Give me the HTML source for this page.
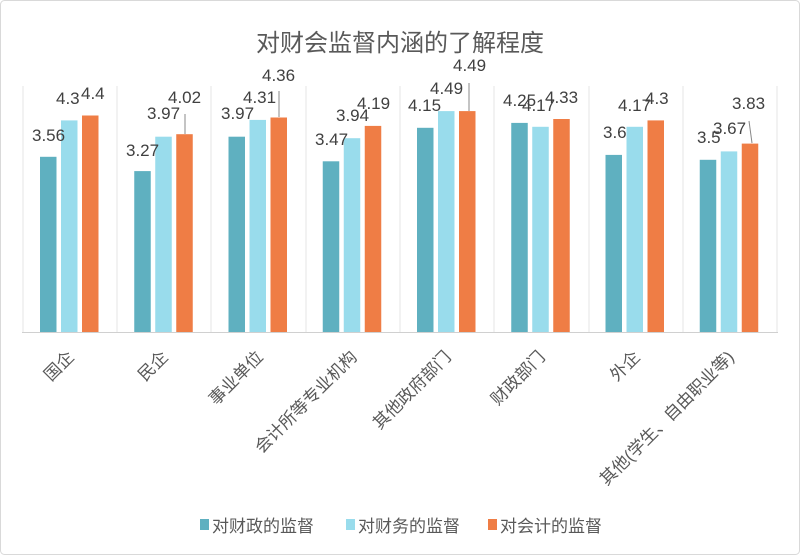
<!DOCTYPE html>
<html><head><meta charset="utf-8"><style>
body{margin:0;background:#fff}
svg{display:block;font-family:"Liberation Sans","Noto Sans CJK SC",sans-serif}
</style></head><body>
<svg width="800" height="555" viewBox="0 0 800 555">
<rect x="0.5" y="0.5" width="799" height="554" rx="4" fill="#fff" stroke="#d9d9d9"/>
<text x="400" y="51" text-anchor="middle" font-size="24" fill="#595959">对财会监督内涵的了解程度</text>
<g stroke="#e6e6e6" stroke-width="1">
<line x1="23" y1="86" x2="23" y2="332"/><line x1="117" y1="86" x2="117" y2="332"/><line x1="211" y1="86" x2="211" y2="332"/><line x1="306" y1="86" x2="306" y2="332"/><line x1="400" y1="86" x2="400" y2="332"/><line x1="494" y1="86" x2="494" y2="332"/><line x1="589" y1="86" x2="589" y2="332"/><line x1="683" y1="86" x2="683" y2="332"/><line x1="777" y1="86" x2="777" y2="332"/>
</g>
<g fill="#5fb0c0">
<rect x="40" y="156.8" width="16.5" height="175.2"/>
<rect x="134.25" y="171.1" width="16.5" height="160.9"/>
<rect x="228.5" y="136.7" width="16.5" height="195.3"/>
<rect x="322.75" y="161.3" width="16.5" height="170.7"/>
<rect x="417" y="127.8" width="16.5" height="204.2"/>
<rect x="511.25" y="122.9" width="16.5" height="209.1"/>
<rect x="605.5" y="154.9" width="16.5" height="177.1"/>
<rect x="699.75" y="159.8" width="16.5" height="172.2"/>
</g>
<g fill="#99dcec">
<rect x="61" y="120.4" width="16.5" height="211.6"/>
<rect x="155.25" y="136.7" width="16.5" height="195.3"/>
<rect x="249.5" y="119.9" width="16.5" height="212.1"/>
<rect x="343.75" y="138.2" width="16.5" height="193.8"/>
<rect x="438" y="111.1" width="16.5" height="220.9"/>
<rect x="532.25" y="126.8" width="16.5" height="205.2"/>
<rect x="626.5" y="126.8" width="16.5" height="205.2"/>
<rect x="720.75" y="151.4" width="16.5" height="180.6"/>
</g>
<g fill="#ef7d45">
<rect x="82" y="115.5" width="16.5" height="216.5"/>
<rect x="176.25" y="134.2" width="16.5" height="197.8"/>
<rect x="270.5" y="117.5" width="16.5" height="214.5"/>
<rect x="364.75" y="125.9" width="16.5" height="206.1"/>
<rect x="459" y="111.1" width="16.5" height="220.9"/>
<rect x="553.25" y="119" width="16.5" height="213"/>
<rect x="647.5" y="120.4" width="16.5" height="211.6"/>
<rect x="741.75" y="143.6" width="16.5" height="188.4"/>
</g>
<line x1="22" y1="332.5" x2="778" y2="332.5" stroke="#d0d0d0"/>
<g stroke="#888" stroke-width="1">
<line x1="185" y1="114" x2="185" y2="134"/>
<line x1="279" y1="91" x2="279" y2="117"/>
<line x1="469" y1="83" x2="469" y2="111"/>
<line x1="749" y1="121" x2="752" y2="143"/>
</g>
<g font-size="17" fill="#404040">
<text x="32" y="141">3.56</text><text x="56" y="104">4.3</text><text x="81" y="99">4.4</text>
<text x="126" y="156">3.27</text><text x="147" y="119">3.97</text><text x="168" y="103">4.02</text>
<text x="221" y="119">3.97</text><text x="243" y="103">4.31</text><text x="262" y="81">4.36</text>
<text x="315" y="145">3.47</text><text x="336" y="121">3.94</text><text x="357" y="109">4.19</text>
<text x="408" y="111">4.15</text><text x="430" y="94">4.49</text><text x="453" y="71">4.49</text>
<text x="503" y="106">4.25</text><text x="522" y="111">4.17</text><text x="545" y="103">4.33</text>
<text x="603" y="138">3.6</text><text x="618" y="111">4.17</text><text x="645" y="104">4.3</text>
<text x="697" y="143">3.5</text><text x="713" y="134">3.67</text><text x="732" y="109">3.83</text>
</g>
<g font-size="17" fill="#595959" text-anchor="end">
<text transform="translate(75,358) rotate(-45)">国企</text>
<text transform="translate(169,358) rotate(-45)">民企</text>
<text transform="translate(264,358) rotate(-45)">事业单位</text>
<text transform="translate(358,358) rotate(-45)">会计所等专业机构</text>
<text transform="translate(452,358) rotate(-45)">其他政府部门</text>
<text transform="translate(546,358) rotate(-45)">财政部门</text>
<text transform="translate(641,358) rotate(-45)">外企</text>
<text transform="translate(735,358) rotate(-45)">其他(学生、自由职业等)</text>
</g>
<g font-size="17" fill="#595959">
<rect x="200" y="519" width="9" height="11" fill="#5fb0c0"/><text x="212" y="532">对财政的监督</text>
<rect x="346" y="519" width="9" height="11" fill="#99dcec"/><text x="358" y="532">对财务的监督</text>
<rect x="488" y="519" width="9" height="11" fill="#ef7d45"/><text x="500" y="532">对会计的监督</text>
</g>
</svg>
</body></html>
